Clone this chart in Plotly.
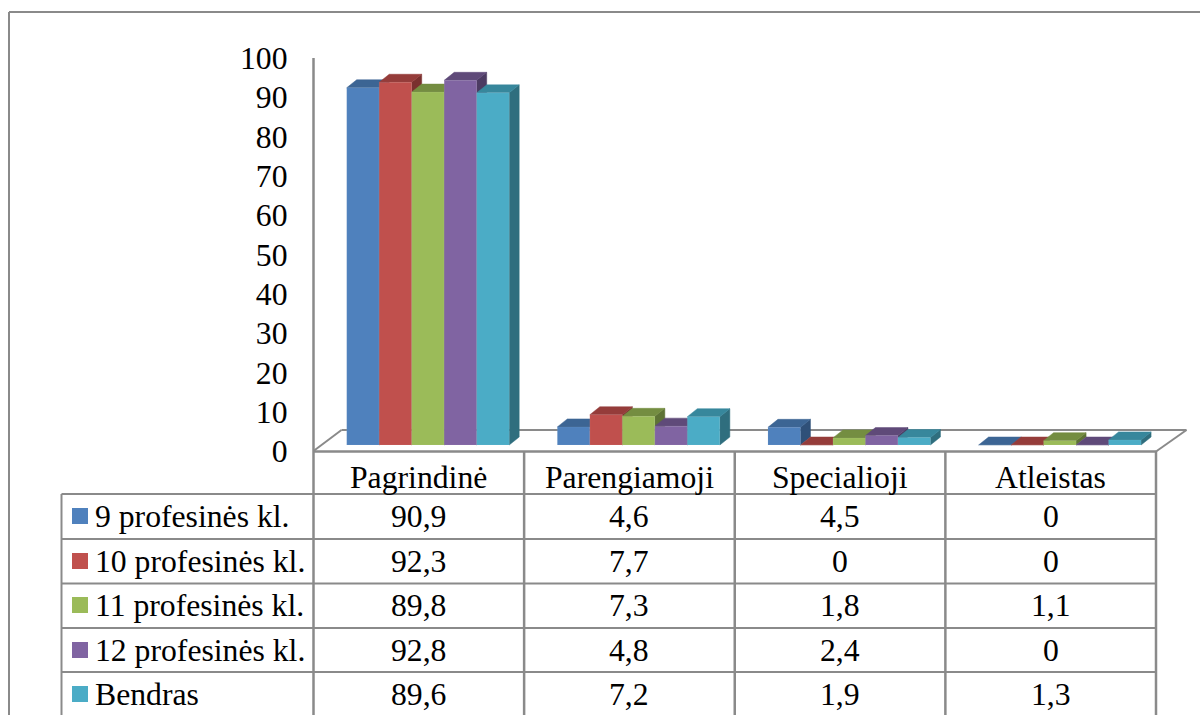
import plotly.graph_objects as go

categories = ["Pagrindinė", "Parengiamoji", "Specialioji", "Atleistas"]
series_names = ["9 profesinės kl.", "10 profesinės kl.", "11 profesinės kl.", "12 profesinės kl.", "Bendras"]
kl9 = [90.9, 4.6, 4.5, 0]
kl10 = [92.3, 7.7, 0, 0]
kl11 = [89.8, 7.3, 1.8, 1.1]
kl12 = [92.8, 4.8, 2.4, 0]
bendras = [89.6, 7.2, 1.9, 1.3]
series_values = [kl9, kl10, kl11, kl12, bendras]
y_ticks = [0, 10, 20, 30, 40, 50, 60, 70, 80, 90, 100]

front = ["#4F81BD", "#C0504D", "#9BBB59", "#8064A2", "#4BACC6"]
top = ["#3C6594", "#953C3A", "#748D41", "#5F4A79", "#37879C"]
side = ["#2F5078", "#7A302E", "#5E7335", "#4C3B62", "#2F6E7E"]

W, H = 1200, 715
GRAY = "#8A8A8A"
FONT = "Liberation Serif"
FS = 31.7

X0, X1 = 313.5, 1156.0
Y0, Y100 = 451.0, 58.0
px_x = (X1 - X0) / 4
px_y = (Y0 - Y100) / 100
left_pad = 33.2 / px_x
bar_w = 32.5 / px_x
base = 6.0 / px_y
dx = 10.0 / px_x
dy = 8.0 / px_y


def fx(p):
    return p / W


def fy(p):
    return 1 - p / H


fig = go.Figure()

# depth faces (lower axes), drawn left to right so each overlaps the previous one
for s, vals in enumerate(series_values):
    sx, sy, tx, ty = [], [], [], []
    for c, v in enumerate(vals):
        l = c + left_pad + s * bar_w
        r = l + bar_w
        t = base + v
        sx += [r, r + dx, r + dx, r, r, None]
        sy += [base, base + dy, t + dy, t, base, None]
        tx += [l, l + dx, r + dx, r, l, None]
        ty += [t, t + dy, t + dy, t, t, None]
    for xs, ys, col in ((sx, sy, side[s]), (tx, ty, top[s])):
        fig.add_trace(go.Scatter(x=xs, y=ys, mode="lines", fill="toself", fillcolor=col,
                                 line=dict(width=0.5, color=col), hoverinfo="skip", showlegend=False))

# front faces (overlaid axes)
for s, vals in enumerate(series_values):
    fig.add_trace(go.Bar(
        x=[c + left_pad + (s + 0.5) * bar_w for c in range(len(categories))],
        y=vals, base=base, width=bar_w, name=series_names[s],
        marker=dict(color=front[s], line=dict(width=0.5, color="rgba(255,255,255,0.15)")),
        xaxis="x2", yaxis="y2", showlegend=False))

shapes = []


def line(x0, y0, x1, y1, width=2, layer="above"):
    shapes.append(dict(type="line", xref="paper", yref="paper", x0=fx(x0), y0=fy(y0), x1=fx(x1), y1=fy(y1),
                       line=dict(color=GRAY, width=width), layer=layer))


# outer frame
line(9, 12, W, 12)
line(9, 12, 9, H)
# value axis line
line(X0, Y100, X0, Y0, width=2.5)
# floor
line(X0, 451, 341.5, 430, layer="below")
line(341.5, 430, 1186.5, 430, layer="below")
line(1186.5, 430, X1, 451.5, layer="below")
# table
row_lines = [494, 539, 583.5, 628, 672]
line(X0, 451.5, X1, 451.5, width=2.5)
for y in row_lines:
    line(61.5, y, X1, y)
line(61.5, 494, 61.5, H)
for c in range(5):
    line(X0 + c * px_x, 451, X0 + c * px_x, H, width=2.5)

annotations = []


def text(s, xp, yp, anchor="center"):
    annotations.append(dict(text=s, xref="paper", yref="paper", x=fx(xp), y=fy(yp), xanchor=anchor, yanchor="middle",
                            showarrow=False, font=dict(family=FONT, size=FS, color="black")))


for c, name in enumerate(categories):
    text(name, X0 + (c + 0.5) * px_x, 477)

row_centers = [516, 561, 605, 650, 694]
for s, vals in enumerate(series_values):
    yc = row_centers[s]
    shapes.append(dict(type="rect", xref="paper", yref="paper", x0=fx(72), x1=fx(88), y0=fy(yc + 8), y1=fy(yc - 8),
                       fillcolor=front[s], line=dict(width=0)))
    text(series_names[s], 92.5, yc, anchor="left")
    for c, v in enumerate(vals):
        text(str(v).replace(".", ","), X0 + (c + 0.5) * px_x, yc)

fig.update_layout(
    width=W, height=H, margin=dict(l=0, r=0, t=0, b=0, autoexpand=False), autosize=False,
    paper_bgcolor="white", plot_bgcolor="rgba(0,0,0,0)", barmode="overlay", showlegend=False,
    font=dict(family=FONT, size=FS, color="black"),
    shapes=shapes, annotations=annotations,
    xaxis=dict(domain=[fx(X0), fx(X1)], range=[0, 4], visible=False, fixedrange=True),
    yaxis=dict(domain=[fy(Y0), fy(Y100)], range=[0, 100], tickvals=y_ticks, ticktext=[str(t) for t in y_ticks],
               showgrid=False, zeroline=False, showline=False, automargin=False,
               ticks="", ticklabelstandoff=25, tickfont=dict(family=FONT, size=FS, color="black"), fixedrange=True),
    xaxis2=dict(domain=[fx(X0), fx(X1)], range=[0, 4], visible=False, overlaying="x", fixedrange=True),
    yaxis2=dict(domain=[fy(Y0), fy(Y100)], range=[0, 100], visible=False, overlaying="y", fixedrange=True),
)

fig.write_html("out.html", config={"displayModeBar": False},
               post_script="document.body.style.margin='0';document.body.style.overflow='hidden';")
